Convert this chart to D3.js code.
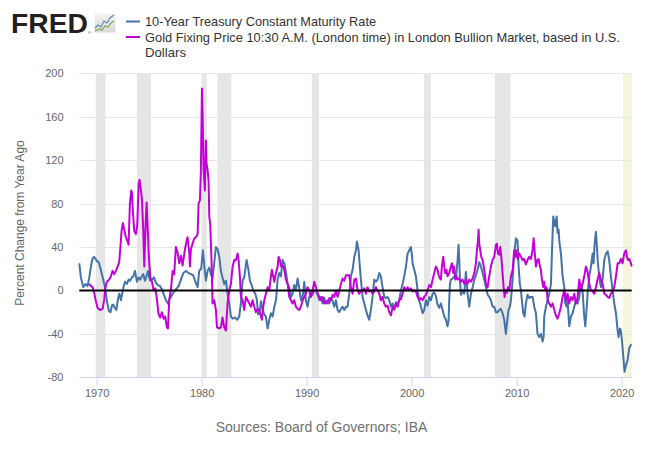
<!DOCTYPE html>
<html>
<head>
<meta charset="utf-8">
<script src="https://cdn.jsdelivr.net/npm/d3@7"></script>
<style>
  body { margin: 0; background: #fff; }
  svg { display: block; font-family: "Liberation Sans", Arial, sans-serif; }
</style>
</head>
<body>
<svg id="chart" width="654" height="454"></svg>
<script>
// 10-Year Treasury, percent change from year ago
const tsyYears = [
  1968.35, 1968.50, 1968.73, 1968.92, 1969.14, 1969.30, 1969.46, 1969.60, 1969.75, 1969.90,
  1970.03, 1970.19, 1970.35, 1970.50, 1970.63, 1970.82, 1970.98, 1971.17, 1971.33, 1971.45,
  1971.58, 1971.72, 1971.88, 1972.03, 1972.16, 1972.31, 1972.45, 1972.58, 1972.70, 1972.89,
  1973.05, 1973.20, 1973.35, 1973.50, 1973.65, 1973.84, 1974.00, 1974.15, 1974.30, 1974.45,
  1974.60, 1974.75, 1974.89, 1975.08, 1975.27, 1975.46, 1975.65, 1975.84, 1976.03, 1976.22,
  1976.41, 1976.60, 1976.79, 1976.95, 1977.08, 1977.30, 1977.55, 1977.81, 1978.03, 1978.26,
  1978.51, 1978.76, 1978.98, 1979.20, 1979.40, 1979.62, 1979.77, 1979.96, 1980.12, 1980.28,
  1980.41, 1980.57, 1980.73, 1980.89, 1981.04, 1981.20, 1981.36, 1981.52, 1981.68, 1981.84,
  1981.99, 1982.15, 1982.31, 1982.47, 1982.63, 1982.79, 1982.95, 1983.17, 1983.39, 1983.58,
  1983.74, 1983.90, 1984.06, 1984.28, 1984.44, 1984.60, 1984.76, 1984.92, 1985.11, 1985.25,
  1985.38, 1985.52, 1985.65, 1985.81, 1985.97, 1986.12, 1986.28, 1986.44, 1986.60, 1986.76,
  1986.92, 1987.08, 1987.24, 1987.39, 1987.55, 1987.71, 1987.87, 1988.03, 1988.19, 1988.35,
  1988.51, 1988.66, 1988.82, 1988.98, 1989.14, 1989.30, 1989.46, 1989.62, 1989.78, 1989.93,
  1990.09, 1990.25, 1990.41, 1990.57, 1990.73, 1990.89, 1991.05, 1991.21, 1991.36, 1991.52,
  1991.68, 1991.84, 1992.00, 1992.16, 1992.32, 1992.48, 1992.63, 1992.79, 1992.95, 1993.11,
  1993.27, 1993.43, 1993.59, 1993.75, 1993.90, 1994.06, 1994.22, 1994.38, 1994.54, 1994.70,
  1994.79, 1994.95, 1995.07, 1995.17, 1995.33, 1995.49, 1995.65, 1995.80, 1995.96, 1996.12,
  1996.28, 1996.44, 1996.60, 1996.76, 1996.92, 1997.07, 1997.23, 1997.39, 1997.55, 1997.71,
  1997.87, 1998.03, 1998.19, 1998.35, 1998.51, 1998.67, 1998.82, 1998.98, 1999.14, 1999.30,
  1999.46, 1999.62, 1999.78, 1999.93, 2000.03, 2000.09, 2000.25, 2000.41, 2000.57, 2000.73,
  2000.89, 2001.05, 2001.20, 2001.36, 2001.52, 2001.68, 2001.84, 2002.00, 2002.16, 2002.31,
  2002.47, 2002.63, 2002.79, 2002.95, 2003.11, 2003.27, 2003.42, 2003.52, 2003.58, 2003.65,
  2003.74, 2003.90, 2004.06, 2004.22, 2004.38, 2004.47, 2004.54, 2004.60, 2004.70, 2004.85,
  2005.01, 2005.17, 2005.33, 2005.49, 2005.65, 2005.81, 2005.97, 2006.12, 2006.28, 2006.44,
  2006.60, 2006.76, 2006.92, 2007.08, 2007.24, 2007.39, 2007.55, 2007.71, 2007.87, 2008.03,
  2008.19, 2008.35, 2008.50, 2008.66, 2008.82, 2008.98, 2009.08, 2009.23, 2009.36, 2009.46,
  2009.62, 2009.77, 2009.93, 2010.09, 2010.19, 2010.31, 2010.41, 2010.50, 2010.63, 2010.76,
  2010.88, 2011.04, 2011.20, 2011.36, 2011.52, 2011.68, 2011.84, 2011.99, 2012.15, 2012.31,
  2012.47, 2012.57, 2012.63, 2012.79, 2012.95, 2013.11, 2013.27, 2013.37, 2013.49, 2013.59,
  2013.68, 2013.81, 2013.90, 2014.00, 2014.06, 2014.22, 2014.31, 2014.38, 2014.54, 2014.63,
  2014.76, 2014.85, 2015.01, 2015.17, 2015.33, 2015.49, 2015.65, 2015.81, 2015.97, 2016.12,
  2016.28, 2016.44, 2016.54, 2016.66, 2016.76, 2016.92, 2017.08, 2017.24, 2017.33, 2017.43,
  2017.55, 2017.65, 2017.74, 2017.87, 2018.03, 2018.19, 2018.35, 2018.51, 2018.67, 2018.82,
  2018.98, 2019.14, 2019.30, 2019.46, 2019.62, 2019.71, 2019.84, 2019.93, 2020.03, 2020.16,
  2020.28, 2020.41, 2020.57, 2020.73, 2020.89, 2020.96
];
const tsyValues = [
  25, 12, 3, 6, 4, 12, 22, 29, 31, 29,
  27, 26, 21, 15, 10, 2, -10, -19, -20, -14,
  -13, -16, -18, -8, -3, -9, -2, 4, 8, 6,
  10, 9, 12, 13, 18, 8, 12, 10, 13, 15,
  9, 13, 18, 9, 10, 12, 7, 5, 4, 1,
  -4, -9, -12, -8, -6, -2, 1, 4, 10, 16,
  18, 16, 15, 14, 8, 3, 18, 20, 37, 20,
  9, 18, 21, 15, 11, 25, 40, 38, 31, 18,
  12, 6, 9, -3, -12, -24, -26, -25, -27, -24,
  -12, 9, 12, 28, 20, 9, 5, 0, -3, -8,
  -22, -20, -10, -18, -22, -24, -35, -27, -21, -24,
  -15, -9, 10, 16, 13, 28, 25, 17, 6, 3,
  -6, -3, 5, 0, 11, 2, -9, -6, 8, -9,
  -15, -6, -3, -4, 0, 0, -4, -9, -6, -12,
  -7, -12, -9, -12, -7, -10, -15, -9, -18, -20,
  -17, -15, -18, -15, -15, -3, 13, 19, 31, 37,
  45, 37, 22, 10, -6, -12, -18, -23, -27, -18,
  -6, 10, 8, 10, 16, 13, 3, -6, -7, -6,
  -9, -15, -12, -18, -11, -12, -9, 0, 6, 13,
  22, 34, 37, 40, 33, 25, 19, 13, 0, -9,
  -15, -21, -18, -9, -14, -6, -9, -3, -2, -5,
  -13, -16, -12, -18, -24, -27, -33, -28, -9, 6,
  10, 11, 13, 11, 28, 42, 28, 10, -4, 0,
  -3, 17, -3, -15, -3, 3, 10, 14, 19, 26,
  22, 16, 10, 3, -4, -6, -9, -15, -15, -20,
  -20, -18, -17, -21, -27, -40, -30, -18, -15, -9,
  10, 34, 48, 46, 22, 6, 0, -9, -21, -24,
  -12, -4, -7, -6, -6, -15, -21, -40, -43, -40,
  -47, -43, -24, -15, -9, -3, 6, 37, 68, 63,
  59, 68, 53, 56, 46, 34, 22, 13, 3, -12,
  -15, -9, -33, -24, -21, -15, -9, -12, -6, 6,
  0, -24, -33, -18, -3, 13, 22, 34, 25, 43,
  54, 40, 25, 13, 3, 10, 28, 34, 36, 28,
  13, 0, -12, -21, -37, -43, -35, -37, -46, -61,
  -75, -69, -64, -53, -50, -50
];

// Gold fixing price, percent change from year ago
const goldYears = [
  1969.30, 1969.46, 1969.62, 1969.77, 1969.93, 1970.09, 1970.31, 1970.57, 1970.73, 1970.82,
  1970.98, 1971.20, 1971.36, 1971.52, 1971.68, 1971.84, 1972.00, 1972.15, 1972.25, 1972.38,
  1972.50, 1972.63, 1972.79, 1972.95, 1973.04, 1973.17, 1973.30, 1973.36, 1973.46, 1973.58,
  1973.74, 1973.87, 1974.00, 1974.09, 1974.22, 1974.31, 1974.44, 1974.54, 1974.66, 1974.76,
  1974.86, 1974.98, 1975.11, 1975.27, 1975.43, 1975.59, 1975.74, 1975.90, 1976.06, 1976.22,
  1976.38, 1976.53, 1976.69, 1976.79, 1976.92, 1977.08, 1977.24, 1977.39, 1977.55, 1977.71,
  1977.87, 1978.03, 1978.19, 1978.35, 1978.51, 1978.66, 1978.82, 1978.89, 1978.98, 1979.14,
  1979.30, 1979.46, 1979.62, 1979.71, 1979.84, 1979.93, 1980.03, 1980.09, 1980.19, 1980.31,
  1980.41, 1980.47, 1980.57, 1980.66, 1980.73, 1980.82, 1980.95, 1981.04, 1981.20, 1981.36,
  1981.46, 1981.68, 1981.84, 1981.99, 1982.15, 1982.31, 1982.47, 1982.63, 1982.79, 1982.95,
  1983.11, 1983.27, 1983.43, 1983.52, 1983.65, 1983.74, 1983.90, 1984.06, 1984.22, 1984.38,
  1984.54, 1984.70, 1984.86, 1985.01, 1985.17, 1985.33, 1985.49, 1985.65, 1985.74, 1985.87,
  1985.97, 1986.12, 1986.28, 1986.44, 1986.60, 1986.69, 1986.82, 1986.92, 1987.08, 1987.24,
  1987.33, 1987.46, 1987.58, 1987.71, 1987.87, 1988.03, 1988.19, 1988.35, 1988.51, 1988.66,
  1988.82, 1988.98, 1989.14, 1989.30, 1989.46, 1989.62, 1989.78, 1989.93, 1990.09, 1990.25,
  1990.41, 1990.57, 1990.73, 1990.89, 1991.05, 1991.21, 1991.36, 1991.52, 1991.68, 1991.84,
  1992.00, 1992.16, 1992.32, 1992.48, 1992.63, 1992.79, 1992.95, 1993.11, 1993.27, 1993.43,
  1993.59, 1993.75, 1993.90, 1994.06, 1994.22, 1994.38, 1994.54, 1994.70, 1994.85, 1995.01,
  1995.17, 1995.33, 1995.49, 1995.65, 1995.80, 1995.96, 1996.12, 1996.28, 1996.44, 1996.60,
  1996.76, 1996.92, 1997.07, 1997.23, 1997.39, 1997.55, 1997.71, 1997.87, 1998.03, 1998.19,
  1998.35, 1998.51, 1998.67, 1998.82, 1998.98, 1999.14, 1999.30, 1999.46, 1999.62, 1999.78,
  1999.93, 2000.09, 2000.25, 2000.41, 2000.57, 2000.73, 2000.89, 2001.05, 2001.20, 2001.36,
  2001.52, 2001.68, 2001.84, 2002.00, 2002.16, 2002.31, 2002.47, 2002.57, 2002.69, 2002.79,
  2002.88, 2003.01, 2003.11, 2003.20, 2003.33, 2003.42, 2003.58, 2003.74, 2003.84, 2003.97,
  2004.06, 2004.16, 2004.28, 2004.38, 2004.54, 2004.70, 2004.85, 2005.01, 2005.17, 2005.33,
  2005.49, 2005.65, 2005.81, 2005.97, 2006.12, 2006.22, 2006.32, 2006.38, 2006.44, 2006.54,
  2006.63, 2006.76, 2006.92, 2007.08, 2007.24, 2007.39, 2007.55, 2007.71, 2007.87, 2008.03,
  2008.12, 2008.22, 2008.35, 2008.44, 2008.54, 2008.66, 2008.76, 2008.85, 2008.98, 2009.08,
  2009.17, 2009.30, 2009.46, 2009.62, 2009.77, 2009.87, 2009.96, 2010.09, 2010.25, 2010.41,
  2010.57, 2010.73, 2010.88, 2011.04, 2011.20, 2011.36, 2011.52, 2011.62, 2011.71, 2011.84,
  2011.99, 2012.09, 2012.22, 2012.31, 2012.41, 2012.54, 2012.63, 2012.73, 2012.85, 2012.95,
  2013.11, 2013.27, 2013.43, 2013.59, 2013.74, 2013.90, 2014.06, 2014.22, 2014.38, 2014.54,
  2014.70, 2014.85, 2015.01, 2015.17, 2015.33, 2015.49, 2015.65, 2015.81, 2015.97, 2016.12,
  2016.28, 2016.44, 2016.60, 2016.76, 2016.92, 2017.08, 2017.24, 2017.39, 2017.55, 2017.71,
  2017.87, 2018.03, 2018.19, 2018.35, 2018.51, 2018.67, 2018.82, 2018.98, 2019.14, 2019.30,
  2019.46, 2019.62, 2019.78, 2019.93, 2020.09, 2020.25, 2020.41, 2020.51, 2020.60, 2020.73,
  2020.89, 2020.96
];
const goldValues = [
  6, 4, 3, -2, -10, -16, -18, -17, -8, 2,
  8, 10, 13, 18, 15, 18, 22, 26, 38, 55,
  62, 56, 49, 45, 42, 80, 92, 90, 72, 55,
  52, 60, 98, 102, 92, 85, 55, 22, 60, 81,
  58, 30, 12, 8, 0, 2, -8, -22, -25, -20,
  -26, -24, -34, -35, -8, 1, 18, 15, 40, 35,
  25, 32, 23, 34, 43, 49, 35, 22, 38, 43,
  48, 49, 52, 80, 83, 110, 186, 163, 111, 92,
  138, 117, 111, 101, 68, 61, 25, -12, -9, -18,
  -34, -35, -34, -25, -34, -37, -12, 0, 6, 22,
  28, 28, 34, 28, 12, -6, -9, -18, -6, -9,
  -12, -15, -9, -15, -20, -17, -18, -24, -27, -15,
  -9, -3, 3, 0, 13, 19, 13, 8, 16, 22,
  31, 28, 22, 23, 19, 10, 6, -6, -9, -12,
  -9, -15, -17, -18, -15, -9, -6, -3, 3, 0,
  -6, 0, 8, 3, -3, -6, -9, -6, -12, -10,
  -12, -7, -9, -4, -6, 0, -6, 0, 6, 11,
  9, 14, 14, 14, 3, -3, 10, 11, 0, -3,
  0, -1, 2, -3, 3, -1, 0, -3, -1, 3,
  0, -3, -9, -6, -12, -15, -14, -20, -23, -15,
  -17, -12, -15, -9, -8, -3, 3, 0, 3, 0,
  2, -1, 0, -1, -6, -9, -7, -9, -6, -4,
  0, 5, 3, 10, 16, 22, 19, 14, 11, 10,
  22, 31, 22, 16, 19, 13, 16, 22, 25, 16,
  22, 10, 13, 10, 11, 8, 10, 6, 10, 6,
  10, 8, 11, 16, 25, 37, 46, 56, 43, 37,
  31, 28, 19, 6, 3, 13, 22, 28, 31, 42,
  43, 34, 33, 40, 31, 16, 3, -6, 0, -2,
  3, 0, 13, 19, 37, 31, 37, 29, 34, 31,
  28, 29, 24, 28, 31, 29, 37, 48, 37, 22,
  28, 29, 22, 19, 10, 3, 8, 0, 3, -9,
  -12, -15, -12, -18, -23, -26, -21, -15, -6, 0,
  -9, -3, -12, -6, -9, -3, -12, -6, 10, 0,
  6, 13, 22, 17, 6, 0, -1, -3, 3, 10,
  16, 10, 6, -3, -4, -6, -7, -3, -1, 3,
  13, 25, 25, 29, 25, 34, 37, 31, 28, 29,
  25, 22
];

// recessions (start, end in decimal years)
const recessionStarts = [1969.92, 1973.83, 1980.0, 1981.5, 1990.5, 2001.17, 2007.92];
const recessionEnds   = [1970.83, 1975.17, 1980.5, 1982.83, 1991.17, 2001.83, 2009.42];
const highlightStart = 2020.12;

const yTicks = [-80, -40, 0, 40, 80, 120, 160, 200];
const xTicks = [1970, 1980, 1990, 2000, 2010, 2020];

const seriesNames = [
  "10-Year Treasury Constant Maturity Rate",
  "Gold Fixing Price 10:30 A.M. (London time) in London Bullion Market, based in U.S.",
  "Dollars"
];
const source = "Sources: Board of Governors; IBA";

const blue = "#4572a7", purple = "#c300d8";

const svg = d3.select("#chart");
const x = d3.scaleLinear().domain([1968.35, 2020.96]).range([79.3, 631.7]);
const y = d3.scaleLinear().domain([-80, 200]).range([377.3, 73.3]);

// recession bars
svg.selectAll("rect.rec")
  .data(recessionStarts.map((s, i) => [s, recessionEnds[i]]))
  .enter().append("rect")
  .attr("class", "rec")
  .attr("x", d => x(d[0]))
  .attr("width", d => x(d[1]) - x(d[0]))
  .attr("y", y(200))
  .attr("height", y(-80) - y(200))
  .attr("fill", "#e6e6e6");

svg.append("rect")
  .attr("x", x(highlightStart))
  .attr("width", x.range()[1] - x(highlightStart))
  .attr("y", y(200))
  .attr("height", y(-80) - y(200))
  .attr("fill", "#f5f5dc");

// horizontal grid
svg.selectAll("line.grid")
  .data(yTicks.filter(v => v > -80))
  .enter().append("line")
  .attr("x1", x.range()[0]).attr("x2", x.range()[1])
  .attr("y1", d => Math.round(y(d)) + 0.5).attr("y2", d => Math.round(y(d)) + 0.5)
  .attr("stroke", "#e6e6e6");

// y labels
svg.selectAll("text.ylab")
  .data(yTicks)
  .enter().append("text")
  .attr("x", 63.5)
  .attr("y", d => y(d) + 4)
  .attr("text-anchor", "end")
  .attr("font-size", 11)
  .attr("fill", "#666")
  .text(d => d);

// x axis
const xAxis = svg.append("g")
  .attr("transform", `translate(0,${Math.round(y(-80)) + 0.5})`)
  .call(d3.axisBottom(x).tickValues(xTicks).tickFormat(d3.format("d")).tickSize(9).tickPadding(3));
xAxis.select(".domain").attr("stroke", "#ccd6eb").attr("d", `M${x.range()[0]},0H${x.range()[1]}`);
xAxis.selectAll(".tick line").attr("stroke", "#ccd6eb");
xAxis.selectAll(".tick text")
  .attr("fill", "#666")
  .attr("font-size", 11)
  .attr("font-family", "Liberation Sans, Arial, sans-serif");

// y axis title
svg.append("text")
  .attr("transform", "translate(24,223) rotate(-90)")
  .attr("text-anchor", "middle")
  .attr("font-size", 12)
  .attr("fill", "#666")
  .text("Percent Change from Year Ago");

// series
const line = d3.line().x(d => x(d[0])).y(d => y(d[1]));
svg.append("path")
  .datum(tsyYears.map((t, i) => [t, tsyValues[i]]))
  .attr("d", line)
  .attr("fill", "none")
  .attr("stroke", blue)
  .attr("stroke-width", 2)
  .attr("stroke-linejoin", "round");
svg.append("path")
  .datum(goldYears.map((t, i) => [t, goldValues[i]]))
  .attr("d", line)
  .attr("fill", "none")
  .attr("stroke", purple)
  .attr("stroke-width", 2)
  .attr("stroke-linejoin", "round");

// zero line
svg.append("line")
  .attr("x1", x.range()[0]).attr("x2", x.range()[1])
  .attr("y1", y(0)).attr("y2", y(0))
  .attr("stroke", "#000")
  .attr("stroke-width", 2);

// FRED logo
svg.append("text")
  .attr("x", 11).attr("y", 33.3)
  .attr("font-size", 28)
  .attr("font-weight", "bold")
  .attr("fill", "#231f20")
  .attr("textLength", 77)
  .attr("lengthAdjust", "spacingAndGlyphs")
  .text("FRED");
svg.append("text")
  .attr("x", 88).attr("y", 34)
  .attr("font-size", 4)
  .attr("fill", "#231f20")
  .text("®");
const grad = svg.append("defs").append("linearGradient")
  .attr("id", "iconGrad").attr("x1", 0).attr("y1", 0).attr("x2", 0).attr("y2", 1);
grad.append("stop").attr("offset", "0%").attr("stop-color", "#f4f4f4");
grad.append("stop").attr("offset", "100%").attr("stop-color", "#d9d9d9");
svg.append("rect")
  .attr("x", 94.5).attr("y", 13.5).attr("width", 21).attr("height", 19)
  .attr("fill", "url(#iconGrad)");
svg.append("polyline")
  .attr("points", "95,28 98,25 101,27 104,21 107,23 110,18 114,15")
  .attr("fill", "none").attr("stroke", "#5b84b8").attr("stroke-width", 1.1);
svg.append("polyline")
  .attr("points", "95,31 99,29 102,30 105,26 108,27 111,23 114,21")
  .attr("fill", "none").attr("stroke", "#7aa34a").attr("stroke-width", 1.1);

// legend
[[blue, 21.5], [purple, 37]].forEach(([c, ly]) => {
  svg.append("line")
    .attr("x1", 126).attr("x2", 140)
    .attr("y1", ly).attr("y2", ly)
    .attr("stroke", c).attr("stroke-width", 2);
});
[[seriesNames[0], 26.2, 231], [seriesNames[1], 41.6, 475], [seriesNames[2], 56.6, 41]].forEach(([t, by, len]) => {
  svg.append("text")
    .attr("x", 145).attr("y", by)
    .attr("font-size", 13)
    .attr("fill", "#333")
    .attr("textLength", len)
    .attr("lengthAdjust", "spacingAndGlyphs")
    .text(t);
});

// source note
svg.append("text")
  .attr("x", 321.5).attr("y", 431.7)
  .attr("text-anchor", "middle")
  .attr("font-size", 14)
  .attr("fill", "#707070")
  .text(source);
</script>
</body>
</html>
